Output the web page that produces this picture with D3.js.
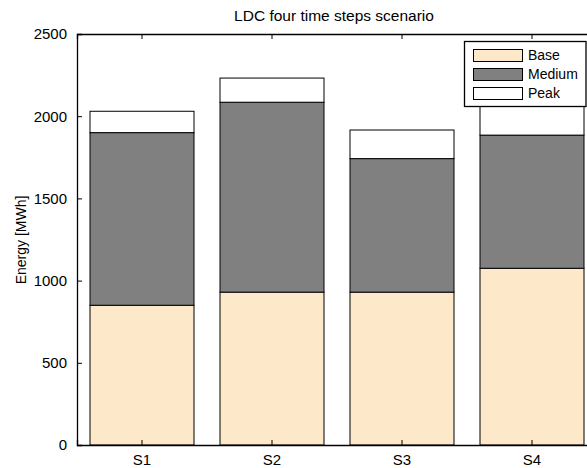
<!DOCTYPE html>
<html>
<head>
<meta charset="utf-8">
<script src="https://cdn.jsdelivr.net/npm/d3@7"></script>
<style>
  html, body { margin: 0; padding: 0; background: #fff; }
  svg { display: block; font-family: "Liberation Sans", Arial, Helvetica, sans-serif; }
</style>
</head>
<body>
<svg id="chart" width="587" height="468"></svg>
<script>
// Scenario energy split into load duration curve blocks (MWh)
const scenarios = ["S1", "S2", "S3", "S4"];
const base   = [850, 930, 930, 1075];
const medium = [1050, 1155, 812, 810];
const peak   = [130, 147, 174, 175];
const seriesNames = ["Base", "Medium", "Peak"];
const seriesColors = ["#FDE9C9", "#808080", "#FFFFFF"];
const yTicks = [0, 500, 1000, 1500, 2000, 2500];

const rows = scenarios.map((s, i) => ({ name: s, Base: base[i], Medium: medium[i], Peak: peak[i] }));

const svg = d3.select("#chart");
const plotLeft = 77, plotRight = 597, plotTop = 34, plotBottom = 445;

const x = d3.scaleBand().domain(scenarios).range([plotLeft, plotRight]).paddingInner(0.2).paddingOuter(0.1);
const y = d3.scaleLinear().domain([0, 2500]).range([plotBottom, plotTop]);
const color = d3.scaleOrdinal().domain(seriesNames).range(seriesColors);

const stacked = d3.stack().keys(seriesNames)(rows);

// stacked bars
const g = svg.append("g");
stacked.forEach(layer => {
  g.selectAll(null).data(layer).enter().append("rect")
    .attr("x", d => x(d.data.name))
    .attr("width", x.bandwidth())
    .attr("y", d => y(d[1]))
    .attr("height", d => y(d[0]) - y(d[1]))
    .attr("fill", color(layer.key))
    .attr("stroke", "#000")
    .attr("stroke-width", 1);
});

// axes box with inward ticks
const tickLen = 5;
const yAxis = d3.axisLeft(y).tickValues(yTicks).tickSize(-tickLen).tickPadding(tickLen + 5).tickFormat(d3.format("d"));
const xAxis = d3.axisBottom(x).tickSize(-tickLen).tickPadding(tickLen + 4.5);
const xTop = d3.axisTop(x).tickSize(-tickLen).tickFormat("");

const ya = svg.append("g").attr("transform", `translate(${plotLeft},0)`).call(yAxis);
const xa = svg.append("g").attr("transform", `translate(0,${plotBottom})`).call(xAxis);
const xt = svg.append("g").attr("transform", `translate(0,${plotTop})`).call(xTop);
[ya, xa, xt].forEach(a => {
  a.select(".domain").attr("stroke", "#000").attr("stroke-width", 1.3);
  a.selectAll(".tick line").attr("stroke", "#000");
  a.selectAll("text").attr("font-size", 15).attr("fill", "#000")
    .attr("font-family", "Liberation Sans, Arial, sans-serif");
});
svg.append("line").attr("x1", plotRight).attr("x2", plotRight).attr("y1", plotTop).attr("y2", plotBottom)
  .attr("stroke", "#000").attr("stroke-width", 1.3);

// title and axis label
svg.append("text").attr("x", 334).attr("y", 21).attr("text-anchor", "middle")
  .attr("font-size", 15.5).text("LDC four time steps scenario");
svg.append("text").attr("transform", `translate(26,240) rotate(-90)`).attr("text-anchor", "middle")
  .attr("font-size", 14).text("Energy [MWh]");

// legend
const lg = svg.append("g");
lg.append("rect").attr("x", 464.5).attr("y", 41.5).attr("width", 121.5).attr("height", 65)
  .attr("fill", "#fff").attr("stroke", "#000").attr("stroke-width", 1.3);
seriesNames.forEach((n, i) => {
  const yy = 49 + i * 19;
  lg.append("rect").attr("x", 473.5).attr("y", yy + 0.5).attr("width", 49).attr("height", 12)
    .attr("fill", color(n)).attr("stroke", "#000").attr("stroke-width", 1);
  lg.append("text").attr("x", 528).attr("y", yy + 6.5).attr("dy", "0.35em")
    .attr("font-size", 14).text(n);
});
</script>
</body>
</html>
